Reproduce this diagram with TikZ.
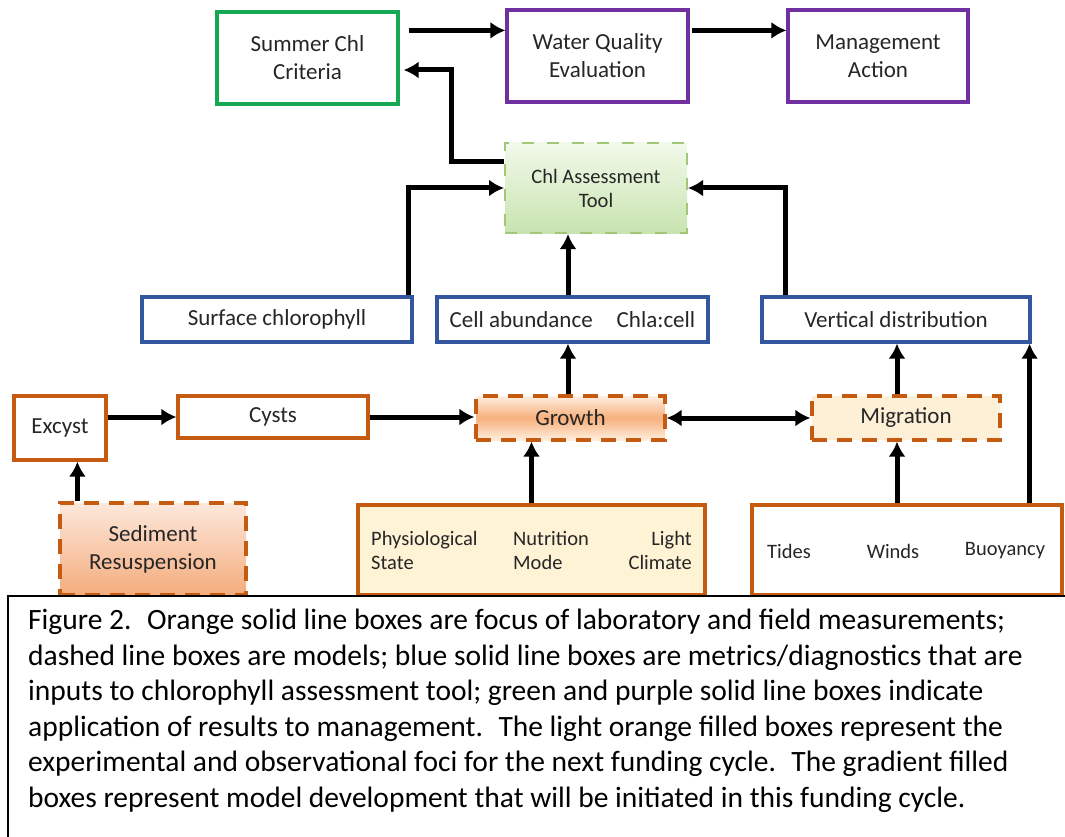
\documentclass[tikz,border=0pt]{standalone}
\usepackage{fontspec}
\setmainfont{Carlito}
\usepackage{xcolor}
\usepackage{tikz}
\usetikzlibrary{arrows.meta,positioning,calc}

\definecolor{critgreen}{RGB}{20,168,85}
\definecolor{evalpurple}{RGB}{112,48,160}
\definecolor{metricblue}{RGB}{52,86,158}
\definecolor{fieldorange}{RGB}{197,90,17}
\definecolor{toolgreen}{RGB}{160,200,120}
\definecolor{toollight}{RGB}{242,249,234}
\definecolor{tooldark}{RGB}{200,228,176}
\definecolor{growthlight}{RGB}{255,238,222}
\definecolor{growthmid}{RGB}{247,176,124}
\definecolor{migrfill}{RGB}{254,240,214}
\definecolor{sedlight}{RGB}{253,232,220}
\definecolor{seddark}{RGB}{244,172,124}
\definecolor{physfill}{RGB}{255,243,214}

\begin{document}
\begin{tikzpicture}[x=1pt,y=-1pt,
  every node/.style={font=\fontsize{23}{28}\selectfont,align=center,text=black!85}
]

\tikzset{
  box/.style={rectangle,draw,line width=3.2pt,inner sep=2pt},
  dashbox/.style={box,dash pattern=on 15pt off 10pt},
  greenbox/.style={box,draw=critgreen,minimum width=181,minimum height=92},
  purplebox/.style={box,draw=evalpurple,minimum width=181,minimum height=92},
  bluebox/.style={box,draw=metricblue,minimum width=270,minimum height=45},
  orangebox/.style={box,draw=fieldorange},
  small/.style={font=\fontsize{20.5}{24}\selectfont},
  intext/.style={small,inner sep=0pt},
  arr/.style={line width=5pt,-{Latex[length=15pt,width=17pt]}},
  dblarr/.style={line width=5pt,{Latex[length=15pt,width=17pt]}-{Latex[length=15pt,width=17pt]}}
}

\useasboundingbox (0,0) rectangle (1065,837);

% management row
\node[greenbox]                     (crit) at (307.5,58) {Summer Chl\\Criteria};
\node[purplebox]                    (wqe)  at (597.5,56) {Water Quality\\Evaluation};
\node[purplebox,minimum width=180]  (mgmt) at (878,56)   {Management\\Action};

% assessment tool
\node[dashbox,draw=toolgreen,line width=2pt,dash pattern=on 12pt off 13pt,
  minimum width=182,minimum height=90,top color=toollight,bottom color=tooldark,small]
  (tool) at (596,188) {Chl Assessment\\Tool};

% metrics
\node[bluebox]                      (surf) at (277,319.5) {Surface chlorophyll};
\node[bluebox,minimum width=271]    (cell) at (572.5,319.5) {Cell abundance\hspace{24pt}Chla:cell};
\node[bluebox,minimum width=268]    (vert) at (896,319.5) {Vertical distribution};

% processes
\node[orangebox,minimum width=92,minimum height=64]  (excyst) at (60,428)  {Excyst};
\node[orangebox,minimum width=190,minimum height=42] (cysts)  at (273,417) {Cysts};
\node[dashbox,draw=fieldorange,minimum width=189,minimum height=44,
  top color=growthlight,bottom color=growthlight,middle color=growthmid]
  (growth) at (570.5,418) {Growth};
\node[dashbox,draw=fieldorange,minimum width=188,minimum height=44,fill=migrfill]
  (migr) at (906,418) {Migration};

% drivers
\node[dashbox,draw=fieldorange,minimum width=186,minimum height=92,
  top color=sedlight,bottom color=seddark]
  (sed) at (153,549) {Sediment\\Resuspension};
\node[orangebox,fill=physfill,minimum width=347,minimum height=90] (phys)    at (531.5,550) {};
\node[orangebox,fill=white,minimum width=310,minimum height=90]    (forcing) at (907,550) {};

\node[intext,align=left,anchor=west]  (state) at (371,550) {Physiological\\State};
\node[intext,align=left,anchor=west]  (mode)  at (513,550) {Nutrition\\Mode};
\node[intext,align=right,anchor=east] (light) at (692,550) {Light\\Climate};
\node[intext] (tides) at (789,551)  {Tides};
\node[intext] (winds) at (893,551)  {Winds};
\node[intext] (buoy)  at (1005,551) {Buoyancy};

% connectors
\draw[arr] ([shift={(9,20)}]crit.north east) coordinate (a1) -- (a1 -| wqe.west);
\draw[arr] ([shift={(2,22)}]wqe.north east) coordinate (a2) -- (a2 -| mgmt.west);
\draw[arr] ([shift={(0,20)}]tool.north west) -- ++(-53,0) |- ([shift={(4,12)}]crit.east);
\draw[arr] ([xshift=-5pt]surf.north east) |- (tool.west);
\draw[arr] ([xshift=-4.5pt]cell.north) coordinate (a3) -- (a3 |- tool.south);
\draw[arr] ([xshift=25pt]vert.north west) |- (tool.east);
\draw[arr] ([xshift=-2.5pt]growth.north) coordinate (a4) -- (a4 |- cell.south);
\draw[arr] (phys.north) -- (phys.north |- growth.south);
\draw[arr] ([xshift=-10pt]forcing.north) coordinate (a5) -- (a5 |- migr.south);
\draw[arr] ([xshift=-9pt]migr.north) coordinate (a6) -- (a6 |- vert.south);
\coordinate (a7) at ([xshift=-2pt]vert.south east);
\draw[arr] (a7 |- forcing.north) -- (a7);
\draw[arr] ([xshift=19pt]sed.north west) coordinate (a8) -- (a8 |- excyst.south);
\draw[arr] (cysts.west -| excyst.east) -- (cysts.west);
\draw[arr] (cysts.east) -- (cysts.east -| growth.west);
\draw[dblarr] (growth.east) -- (migr.west);

% caption
\draw[line width=2.5pt,fill=white] (8,596) rectangle (1080,850);
\node[font=\fontsize{29.5}{35.5}\selectfont,text=black,align=left,anchor=north west,inner sep=0pt]
  (caption) at (28,609) {Figure 2.~ Orange solid line boxes are focus of laboratory and field measurements;\\
dashed line boxes are models; blue solid line boxes are metrics/diagnostics that are\\
inputs to chlorophyll assessment tool; green and purple solid line boxes indicate\\
application of results to management.~ The light orange filled boxes represent the\\
experimental and observational foci for the next funding cycle.~ The gradient filled\\
boxes represent model development that will be initiated in this funding cycle.};

\end{tikzpicture}
\end{document}
